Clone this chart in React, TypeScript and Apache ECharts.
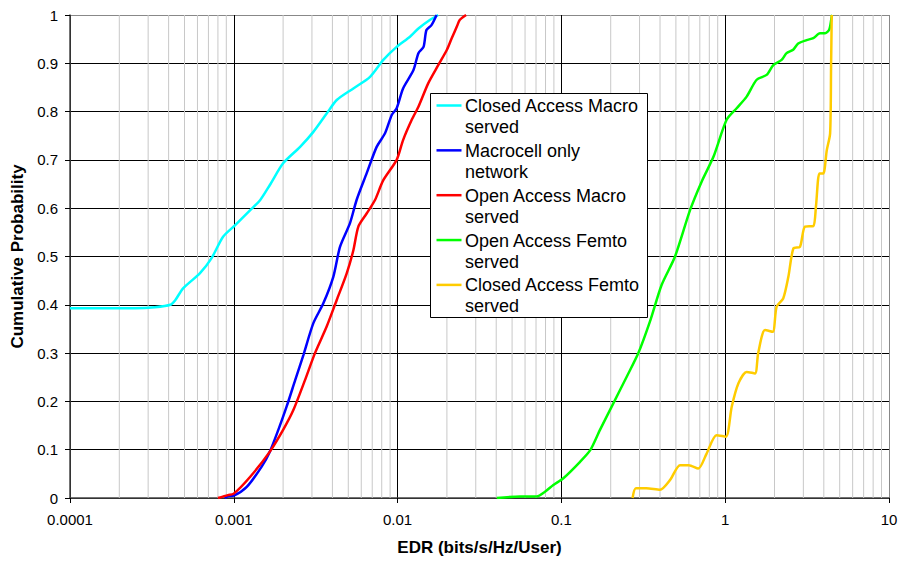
import React, { useEffect, useRef } from "react";
import * as echarts from "echarts";

const seriesNames = [
  "Closed Access Macro\nserved",
  "Macrocell only\nnetwork",
  "Open Access Macro\nserved",
  "Open Access Femto\nserved",
  "Closed Access Femto\nserved",
];
const seriesColors = ["#00FFFF", "#0000FF", "#FF0000", "#00FF00", "#FFCC00"];

const xTickLabels = ["0.0001", "0.001", "0.01", "0.1", "1", "10"];
const yTickLabels = ["0", "0.1", "0.2", "0.3", "0.4", "0.5", "0.6", "0.7", "0.8", "0.9", "1"];

const closedMacro = [
  [0.0001, 0.393], [0.00025, 0.393], [0.00033, 0.395], [0.00041, 0.4], [0.00044, 0.41],
  [0.00049, 0.434], [0.00062, 0.465], [0.00073, 0.496], [0.00086, 0.541], [0.00102, 0.565],
  [0.00126, 0.596], [0.00145, 0.617], [0.00166, 0.648], [0.002, 0.693], [0.00254, 0.727],
  [0.00306, 0.758], [0.00369, 0.796], [0.00425, 0.824], [0.00537, 0.848], [0.00679, 0.872],
  [0.00818, 0.907], [0.00987, 0.934], [0.0119, 0.955], [0.0134, 0.972], [0.0158, 0.99],
  [0.0177, 1.0],
];
const macroOnly = [
  [0.00088, 0], [0.00093, 0.004], [0.001, 0.005], [0.0012, 0.023], [0.00148, 0.065],
  [0.00166, 0.096], [0.00187, 0.141], [0.0021, 0.189], [0.00237, 0.244], [0.00266, 0.296],
  [0.00306, 0.362], [0.00352, 0.403], [0.00405, 0.458], [0.00445, 0.52], [0.00512, 0.569],
  [0.00562, 0.617], [0.00647, 0.672], [0.00745, 0.727], [0.00838, 0.755], [0.00921, 0.793],
  [0.00987, 0.807], [0.0108, 0.848], [0.0125, 0.886], [0.0134, 0.921], [0.0144, 0.934],
  [0.015, 0.969], [0.0161, 0.979], [0.0173, 1.0],
];
const openMacro = [
  [0.0008, 0], [0.00092, 0.006], [0.001, 0.009], [0.00126, 0.044], [0.00166, 0.096],
  [0.002, 0.141], [0.00231, 0.182], [0.00272, 0.244], [0.00313, 0.3], [0.00369, 0.355],
  [0.00425, 0.41], [0.00489, 0.465], [0.00537, 0.513], [0.00576, 0.562], [0.00647, 0.589],
  [0.00728, 0.617], [0.00818, 0.658], [0.00987, 0.7], [0.0108, 0.741], [0.0122, 0.783],
  [0.0134, 0.81], [0.0154, 0.859], [0.0177, 0.896], [0.02, 0.928], [0.0214, 0.952],
  [0.023, 0.976], [0.024, 0.99], [0.0262, 1.0],
];
const openFemto = [
  [0.0403, 0], [0.0558, 0.003], [0.0706, 0.003], [0.0794, 0.013], [0.0893, 0.027],
  [0.1028, 0.041], [0.13, 0.075], [0.15, 0.099], [0.172, 0.141], [0.2075, 0.196],
  [0.2505, 0.251], [0.295, 0.3], [0.347, 0.365], [0.409, 0.441], [0.494, 0.5],
  [0.61, 0.596], [0.718, 0.655], [0.849, 0.707], [1.02, 0.783], [1.175, 0.807],
  [1.352, 0.831], [1.556, 0.866], [1.79, 0.876], [1.965, 0.896], [2.21, 0.907],
  [2.37, 0.921], [2.6, 0.928], [2.79, 0.941], [3.14, 0.948], [3.45, 0.952],
  [3.79, 0.962], [4.07, 0.962], [4.32, 0.97], [4.47, 0.997], [4.5, 1.0],
];
const closedFemto = [
  [0.272, 0], [0.285, 0.02], [0.33, 0.02], [0.4, 0.017], [0.46, 0.037], [0.53, 0.068],
  [0.6, 0.068], [0.685, 0.061], [0.77, 0.092], [0.885, 0.13], [1.01, 0.127], [1.096, 0.189],
  [1.203, 0.237], [1.352, 0.261], [1.52, 0.258], [1.59, 0.3], [1.75, 0.348], [1.95, 0.344],
  [2.06, 0.396], [2.26, 0.413], [2.43, 0.458], [2.61, 0.517], [2.86, 0.52], [3.07, 0.562],
  [3.45, 0.563], [3.58, 0.603], [3.76, 0.672], [3.97, 0.672], [4.17, 0.72], [4.37, 0.755],
  [4.43, 0.893], [4.47, 1.0],
];
const seriesData = [closedMacro, macroOnly, openMacro, openFemto, closedFemto];

const decades = [0.0001, 0.001, 0.01, 0.1, 1];
const minorMultipliers = [2, 3, 4, 5, 6, 7, 8, 9];

const FONT = "'Liberation Sans', Arial, sans-serif";

export default function App() {
  const ref = useRef<HTMLDivElement>(null);

  useEffect(() => {
    if (!ref.current) return;
    const chart = echarts.init(ref.current, undefined, { renderer: "svg" });

    const minorVals: number[] = [];
    decades.forEach((d) => minorMultipliers.forEach((m) => minorVals.push(+(d * m).toPrecision(3))));
    const minorGridData: any[] = [];
    minorVals.forEach((v) => {
      minorGridData.push([v, 0], [v, 1], [v, "-"]);
    });

    const legendLeft = 430.5;
    const legendTop = 93.5;
    const itemGap = 44.85;
    const legendGraphics: any[] = [
      {
        type: "rect",
        shape: { x: legendLeft, y: legendTop, width: 217, height: 224 },
        style: { fill: "#fff", stroke: "#000", lineWidth: 1 },
        z: 100,
      },
    ];
    seriesNames.forEach((name, i) => {
      const cy = 105.5 + i * itemGap;
      legendGraphics.push({
        type: "line",
        shape: { x1: 436.5, y1: cy, x2: 461.5, y2: cy },
        style: { stroke: seriesColors[i], lineWidth: 2.5 },
        z: 101,
      });
      legendGraphics.push({
        type: "text",
        x: 465,
        y: cy - 10,
        style: {
          text: name,
          fill: "#000",
          font: `18px ${FONT}`,
          lineHeight: 21,
          textAlign: "left",
          textVerticalAlign: "top",
        },
        z: 101,
      });
    });

    const ySplitColors = yTickLabels.map((_, i) => (i === yTickLabels.length - 1 ? "#888" : "#000"));
    const xSplitColors = xTickLabels.map((_, i) => (i === xTickLabels.length - 1 ? "#888" : "#000"));

    chart.setOption({
      animation: false,
      backgroundColor: "#fff",
      textStyle: { fontFamily: FONT },
      grid: { left: 70, right: 12, top: 15, bottom: 63, containLabel: false },
      xAxis: {
        type: "log",
        logBase: 10,
        min: 0.0001,
        max: 10,
        name: "EDR (bits/s/Hz/User)",
        nameLocation: "middle",
        nameGap: 41,
        nameTextStyle: { fontSize: 17, fontWeight: "bold", color: "#000", fontFamily: FONT },
        axisLine: { show: true, onZero: false, lineStyle: { color: "#444", width: 1.5 } },
        axisTick: { show: true, inside: false, length: 5, lineStyle: { color: "#000" } },
        axisLabel: {
          margin: 14,
          fontSize: 15,
          color: "#000",
          fontFamily: FONT,
          formatter: (v: number) => xTickLabels[Math.round(Math.log10(v)) + 4] ?? String(v),
        },
        splitLine: { show: true, lineStyle: { color: xSplitColors, width: 1 } },
      },
      yAxis: {
        type: "value",
        min: 0,
        max: 1,
        interval: 0.1,
        name: "Cumulative Probability",
        nameLocation: "middle",
        nameGap: 41,
        nameRotate: 90,
        nameTextStyle: { fontSize: 17, fontWeight: "bold", color: "#000", fontFamily: FONT },
        axisLine: { show: true, lineStyle: { color: "#444", width: 1.5 } },
        axisTick: { show: true, inside: false, length: 5, lineStyle: { color: "#000" } },
        axisLabel: {
          margin: 12,
          fontSize: 15,
          color: "#000",
          fontFamily: FONT,
          formatter: (v: number) => yTickLabels[Math.round(v * 10)] ?? String(v),
        },
        splitLine: { show: true, lineStyle: { color: ySplitColors, width: 1 } },
      },
      graphic: legendGraphics,
      series: [
        {
          type: "line",
          name: "minor-grid",
          data: minorGridData,
          z: 1,
          silent: true,
          showSymbol: false,
          symbol: "none",
          connectNulls: false,
          lineStyle: { color: "#c8c8c8", width: 1 },
          itemStyle: { color: "#c8c8c8" },
        },
        ...seriesData.map((d, i) => ({
          type: "line",
          name: seriesNames[i].replace("\n", " "),
          data: d,
          showSymbol: false,
          symbol: "none",
          smooth: 0.25,
          z: 3 + i,
          lineStyle: { color: seriesColors[i], width: 2.5 },
          itemStyle: { color: seriesColors[i] },
        })),
      ],
    });

    return () => chart.dispose();
  }, []);

  return (
    <div
      ref={ref}
      style={{ position: "fixed", left: 0, top: 0, width: 901, height: 561, background: "#fff" }}
    />
  );
}
